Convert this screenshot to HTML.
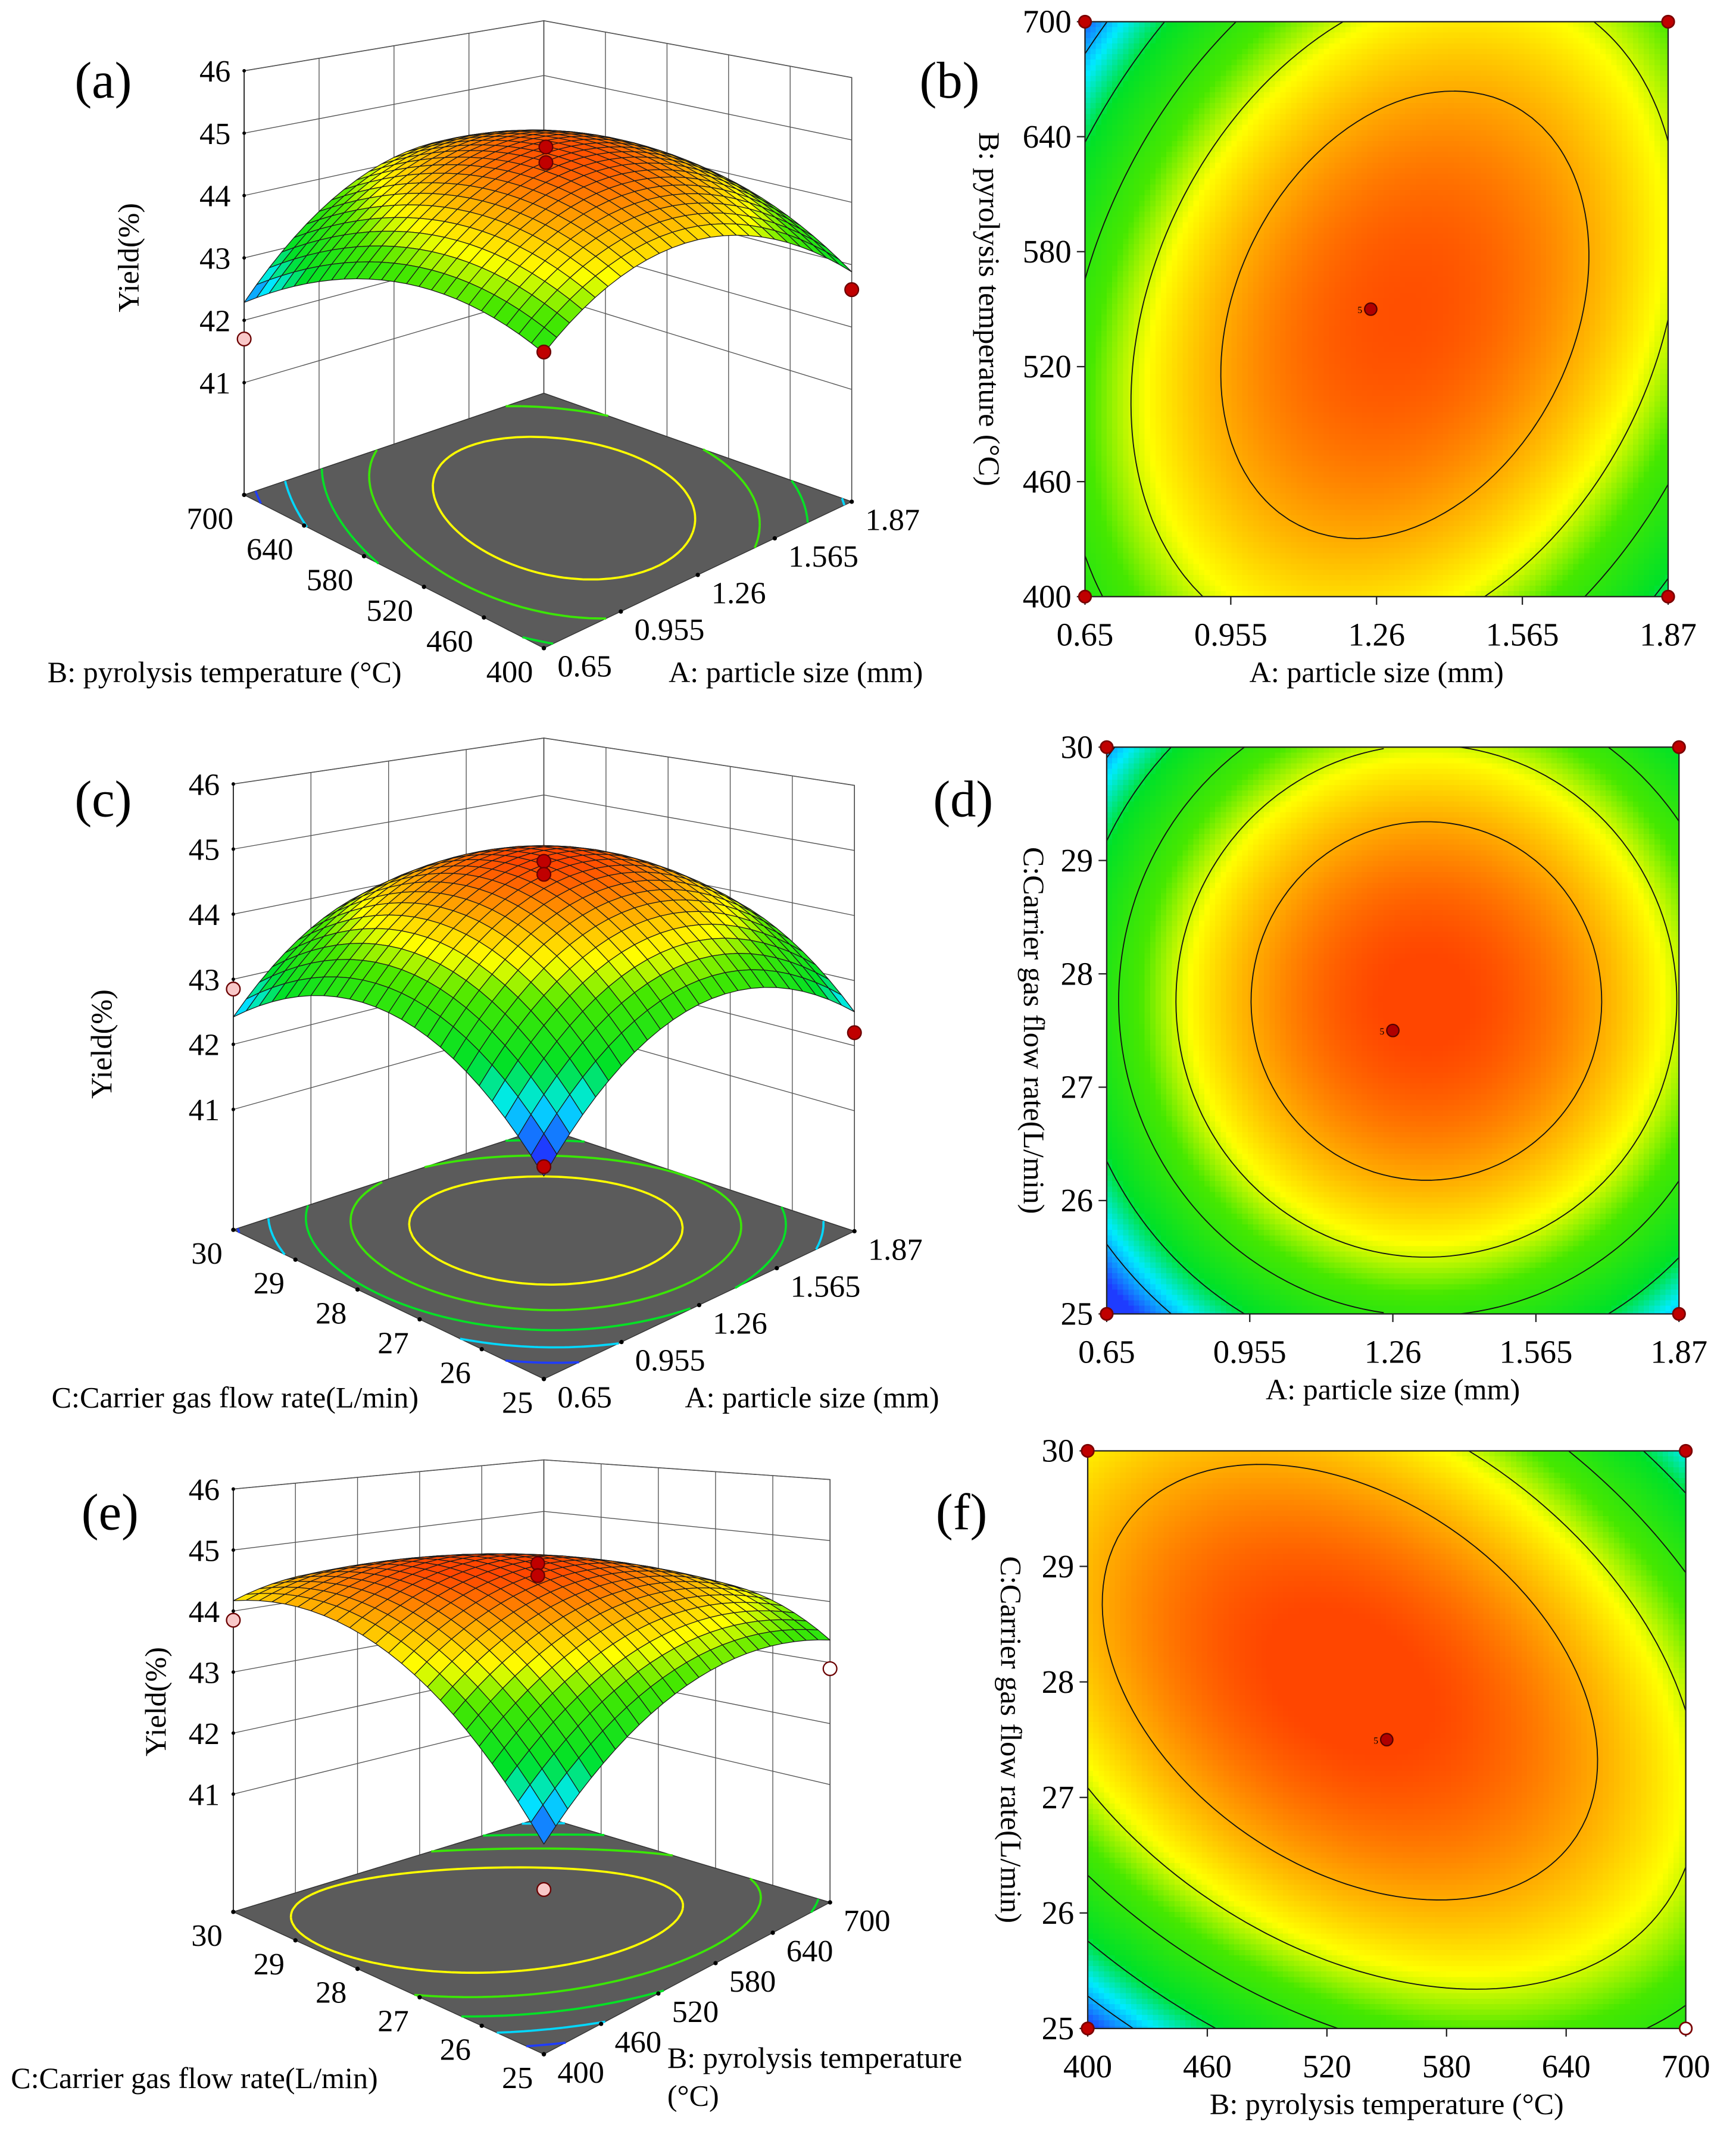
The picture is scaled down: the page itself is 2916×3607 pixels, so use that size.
<!DOCTYPE html>
<html><head><meta charset="utf-8">
<style>
html,body{margin:0;padding:0;background:#fff;}
svg{display:block;}
text{font-family:"Liberation Serif",serif;}
</style></head>
<body>
<svg id="fig" xmlns="http://www.w3.org/2000/svg" width="2916" height="3607" viewBox="0 0 1280 1583.4"></svg>
<script>
// ---- data (coefficients in coded units: b0, b1, b2, b12, b11, b22) ----
const coefAB = [44.9, 0.225, -0.075, 0.475, -1.11, -0.73];
const coefAC = [44.95, 0.3, 0.25, 0.0, -1.28, -1.2];
const coefBC = [44.97, -0.075, 0.325, -0.675, -0.85, -1.025];
const ticksA = ['0.65','0.955','1.26','1.565','1.87'];
const ticksB = ['400','460','520','580','640','700'];
const ticksC = ['25','26','27','28','29','30'];
const ticksY = ['41','42','43','44','45','46'];
const zTickVals = [41,42,43,44,45,46];
const contourLevels = [42.5,43,43.5,44,44.5];
// design points: coded x, coded y, yield
const ptsAB = [[0,0,45.0],[0,0,44.75],[-1,1,41.7],[-1,-1,43.4],[1,-1,42.6]];
const ptsAC = [[0,0,45.0],[0,0,44.8],[-1,1,42.85],[-1,-1,42.05],[1,-1,42.2]];
const ptsBC = [[0,0,45.0],[0,0,44.8],[-1,1,43.85],[-1,-1,41.5],[1,-1,42.9]];
const ptColAB = ['#c00000','#c00000','#f8c8c8','#c00000','#c00000'];
const ptColAC = ['#c00000','#c00000','#f8c8c8','#c00000','#c00000'];
const ptColBC = ['#c00000','#c00000','#f8c8c8','#f8c8c8','#ffffff'];

const cmapV=[42.2,42.65,43.05,43.7,44.1,44.55,44.95];
const cmapC=[[30,60,255],[0,235,255],[0,225,40],[70,232,0],[255,255,0],[255,160,0],[255,70,0]];

const NS='http://www.w3.org/2000/svg';
const svg=document.getElementById('fig');
function mk(tag,attrs,parent){const e=document.createElementNS(NS,tag);for(const k in attrs)e.setAttribute(k,attrs[k]);(parent||svg).appendChild(e);return e;}
function model(c,x,y){return c[0]+c[1]*x+c[2]*y+c[3]*x*y+c[4]*x*x+c[5]*y*y;}
function col(z){
  if(z<=cmapV[0])return 'rgb('+cmapC[0].join(',')+')';
  for(let i=1;i<cmapV.length;i++){if(z<=cmapV[i]){const f=(z-cmapV[i-1])/(cmapV[i]-cmapV[i-1]);const a=cmapC[i-1],b=cmapC[i];return 'rgb('+[0,1,2].map(k=>Math.round(a[k]+(b[k]-a[k])*f)).join(',')+')';}}
  return 'rgb('+cmapC[cmapC.length-1].join(',')+')';
}
function ms(N,val,lev){
  const segs=[];
  for(let i=0;i<N;i++)for(let j=0;j<N;j++){
    const v0=val[i][j],v1=val[i+1][j],v2=val[i+1][j+1],v3=val[i][j+1];const p=[];
    if((v0-lev)*(v1-lev)<0)p.push([i+(lev-v0)/(v1-v0),j]);
    if((v1-lev)*(v2-lev)<0)p.push([i+1,j+(lev-v1)/(v2-v1)]);
    if((v2-lev)*(v3-lev)<0)p.push([i+1-(lev-v2)/(v3-v2),j+1]);
    if((v3-lev)*(v0-lev)<0)p.push([i,j+1-(lev-v3)/(v0-v3)]);
    if(p.length>=2)segs.push([p[0],p[1]]);
    if(p.length==4)segs.push([p[2],p[3]]);
  }
  return segs;
}
function txt(x,y,s,size,anchor,parent,rot){
  const t=mk('text',{x:x,y:y,'font-size':size,'text-anchor':anchor||'middle',fill:'#000'},parent);
  if(rot)t.setAttribute('transform','rotate('+rot+' '+x+' '+y+')');
  t.textContent=s;return t;
}

// ---------- 3D panel ----------
function panel3D(g){
  const G=mk('g',{});
  
  
  const bil=(a,s,t)=>a[0]*(1-s)*(1-t)+a[1]*s*(1-t)+a[2]*(1-s)*t+a[3]*s*t;
  const P=(s,t,z)=>{const x=bil([g.F[0],g.R[0],g.L[0],g.K[0]],s,t);const fy=bil([g.F[1],g.R[1],g.L[1],g.K[1]],s,t);const k=bil([g.kF,g.kR,g.kL,g.kK],s,t);return [x,fy-(z-g.zf)*k];};
  const pt=p=>p[0].toFixed(2)+','+p[1].toFixed(2);
  const zt=46;
  const lw=mk('polygon',{points:[P(0,1,g.zf),P(1,1,g.zf),P(1,1,zt),P(0,1,zt)].map(pt).join(' '),fill:'#fff',stroke:'#444','stroke-width':0.7},G);
  
  
  const rw=mk('polygon',{points:[P(1,1,g.zf),P(1,0,g.zf),P(1,0,zt),P(1,1,zt)].map(pt).join(' '),fill:'#fff',stroke:'#444','stroke-width':0.7},G);
  
  
  let d='';
  const ns=g.sTicks.length-1, nt=g.tTicks.length-1;
  for(let i=1;i<ns;i++){const a=P(i/ns,1,g.zf),b=P(i/ns,1,zt);d+='M'+pt(a)+'L'+pt(b);}
  for(let i=1;i<nt;i++){const a=P(1,i/nt,g.zf),b=P(1,i/nt,zt);d+='M'+pt(a)+'L'+pt(b);}
  zTickVals.forEach(z=>{d+='M'+pt(P(0,1,z))+'L'+pt(P(1,1,z))+'L'+pt(P(1,0,z));});
  const grid=mk('path',{d:d,stroke:'#555',fill:'none','stroke-width':0.6},G);
  
  
  const za=mk('line',{x1:P(0,1,g.zf)[0],y1:P(0,1,g.zf)[1],x2:P(0,1,zt)[0],y2:P(0,1,zt)[1],stroke:'#222','stroke-width':0.8},G);
  
  
  zTickVals.forEach((z,i)=>{const p=P(0,1,z);
    const tk=mk('circle',{cx:p[0],cy:p[1],r:1.3,fill:'#000'},G);
    
    
    const t=txt(p[0]-10,p[1]+8,ticksY[i],23,'end',G);
    
    });
  const fl=mk('polygon',{points:[P(0,0,g.zf),P(1,0,g.zf),P(1,1,g.zf),P(0,1,g.zf)].map(pt).join(' '),fill:'#5b5b5b',stroke:'#333','stroke-width':0.6},G);
  
  
  const N=40,val=[];
  for(let i=0;i<=N;i++){val.push([]);for(let j=0;j<=N;j++)val[i].push(model(g.coef,-1+2*i/N,-1+2*j/N));}
  contourLevels.forEach(lev=>{
    const segs=ms(N,val,lev);let dd='';
    segs.forEach(sg=>{dd+='M'+pt(P(sg[0][0]/N,sg[0][1]/N,g.zf))+'L'+pt(P(sg[1][0]/N,sg[1][1]/N,g.zf));});
    const c=mk('path',{d:dd,stroke:col(lev-0.4),'stroke-width':1.6,fill:'none'},G);
    
    
  });
  g.tTicks.forEach((lab,i)=>{const t=i/nt;const p=P(0,t,g.zf);
    const tk=mk('circle',{cx:p[0],cy:p[1],r:1.6,fill:'#000'},G);
    
    
    const tx=txt(p[0]-8,p[1]+25,lab,23,'end',G);
    
    });
  g.sTicks.forEach((lab,i)=>{const s=i/ns;const p=P(s,0,g.zf);
    const tk=mk('circle',{cx:p[0],cy:p[1],r:1.6,fill:'#000'},G);
    
    
    const tx=txt(p[0]+10,p[1]+21,lab,23,'start',G);
    
    });
  const M=24,quads=[];
  for(let i=0;i<M;i++)for(let j=0;j<M;j++)quads.push([i,j]);
  quads.sort((a,b)=>(b[0]+b[1])-(a[0]+a[1]));
  const SG=mk('g',{stroke:'#1a1a1a','stroke-width':0.55,'stroke-linejoin':'round'},G);
  
  
  quads.forEach(q=>{
    const s0=q[0]/M,s1=(q[0]+1)/M,t0=q[1]/M,t1=(q[1]+1)/M;
    const z=(s,t)=>model(g.coef,-1+2*s,-1+2*t);
    const z00=z(s0,t0),z10=z(s1,t0),z11=z(s1,t1),z01=z(s0,t1);
    const p=mk('polygon',{points:[P(s0,t0,z00),P(s1,t0,z10),P(s1,t1,z11),P(s0,t1,z01)].map(pt).join(' '),fill:col((z00+z10+z11+z01)/4)},SG);
    
    
  });
  g.pts.forEach((pp,i)=>{const p=P((pp[0]+1)/2,(pp[1]+1)/2,pp[2]);
    const c=mk('circle',{cx:p[0],cy:p[1],r:5,fill:g.pcol[i],stroke:'#6a0000','stroke-width':1},G);
    
    });
  const pl=txt(g.lab[0],g.lab[1],g.lab[2],38,'start',G);
  
  
  const yl=txt(g.ylab[0],g.ylab[1],'Yield(%)',22,'middle',G,-90);
  
  
  g.titles.forEach(tt=>{const t=txt(tt[0],tt[1],tt[2],22,'start',G);
    
    });
}

panel3D({name:'surface-plot-a',F:[401,478],L:[180,365],R:[628,370],K:[401,290],kF:52,kL:46,kR:46,kK:40.4,zf:39.2,coef:coefAB,sTicks:ticksA,tTicks:ticksB,pts:ptsAB,pcol:ptColAB,lab:[55,72,'(a)'],ylab:[102,190],titles:[[35,503,'B: pyrolysis temperature (°C)'],[493,503,'A: particle size (mm)']]});
panel3D({name:'surface-plot-c',F:[401,1017],L:[172,907],R:[630,908],K:[401,832],kF:54,kL:48,kR:48,kK:42,zf:39.15,coef:coefAC,sTicks:ticksA,tTicks:ticksC,pts:ptsAC,pcol:ptColAC,lab:[55,602,'(c)'],ylab:[82,770],titles:[[38,1038,'C:Carrier gas flow rate(L/min)'],[505,1038,'A: particle size (mm)']]});
panel3D({name:'surface-plot-e',F:[401,1515],L:[172,1410],R:[612,1403],K:[401,1340],kF:50,kL:45,kR:45,kK:38,zf:39.07,coef:coefBC,sTicks:ticksB,tTicks:ticksC,pts:ptsBC,pcol:ptColBC,lab:[60,1128,'(e)'],ylab:[122,1255],titles:[[8,1540,'C:Carrier gas flow rate(L/min)'],[492,1525,'B: pyrolysis temperature'],[492,1553,'(°C)']]});

// ---------- contour panels ----------
function panel2D(g){
  const G=mk('g',{});
  
  
  const W=g.x1-g.x0,H=g.y1-g.y0;
  const X=u=>g.x0+(u+1)/2*W, Y=v=>g.y1-(v+1)/2*H;
  const step=4;
  const HG=mk('g',{'shape-rendering':'crispEdges'},G);
  
  
  for(let px=g.x0;px<g.x1;px+=step)for(let py=g.y0;py<g.y1;py+=step){
    const w=Math.min(step,g.x1-px),h=Math.min(step,g.y1-py);
    const u=((px+w/2)-g.x0)/W*2-1,v=(g.y1-(py+h/2))/H*2-1;
    const r=mk('rect',{x:px,y:py,width:w+0.4,height:h+0.4,fill:col(model(g.coef,u,v))},HG);
    
    
  }
  const N=60,val=[];
  for(let i=0;i<=N;i++){val.push([]);for(let j=0;j<=N;j++)val[i].push(model(g.coef,-1+2*i/N,-1+2*j/N));}
  contourLevels.forEach(lev=>{
    const segs=ms(N,val,lev);let dd='';
    segs.forEach(sg=>{dd+='M'+X(-1+2*sg[0][0]/N).toFixed(2)+','+Y(-1+2*sg[0][1]/N).toFixed(2)+'L'+X(-1+2*sg[1][0]/N).toFixed(2)+','+Y(-1+2*sg[1][1]/N).toFixed(2);});
    const c=mk('path',{d:dd,stroke:'#111','stroke-width':0.8,fill:'none','stroke-linecap':'round'},G);
    
    
  });
  const fr=mk('rect',{x:g.x0,y:g.y0,width:W,height:H,fill:'none',stroke:'#222','stroke-width':1},G);
  
  
  g.xt.forEach((lab,i)=>{const x=g.x0+i/(g.xt.length-1)*W;
    const l=mk('line',{x1:x,y1:g.y1,x2:x,y2:g.y1+6,stroke:'#222','stroke-width':1},G);
    
    
    const t=txt(x,g.y1+36,lab,24,'middle',G);
    
    });
  g.yt.forEach((lab,i)=>{const y=g.y1-i/(g.yt.length-1)*H;
    const l=mk('line',{x1:g.x0-6,y1:y,x2:g.x0,y2:y,stroke:'#222','stroke-width':1},G);
    
    
    const t=txt(g.x0-10,y+8,lab,24,'end',G);
    
    });
  g.corners.forEach(c=>{
    const p=mk('circle',{cx:X(c[0]),cy:Y(c[1]),r:4.5,fill:c[2],stroke:'#7a0000','stroke-width':1.2},G);
    
    });
  const cp=mk('circle',{cx:X(g.center[0]),cy:Y(g.center[1]),r:4.5,fill:'#b00000',stroke:'#500','stroke-width':1},G);
  
  
  const cl=txt(X(g.center[0])-8,Y(g.center[1])+3,'5',7,'middle',G);
  
  
  const xt=txt((g.x0+g.x1)/2,g.y1+63,g.xtitle,22,'middle',G);
  
  
  const yt=txt(g.ytx,(g.y0+g.y1)/2,g.ytitle,22,'middle',G,90);
  
  
  const pl=txt(g.lab[0],g.lab[1],g.lab[2],38,'start',G);
  
  
}
const red='#c00000';
panel2D({name:'contour-plot-b',x0:800,x1:1230,y0:16,y1:440,coef:coefAB,xt:ticksA,yt:ticksB,xtitle:'A: particle size (mm)',ytitle:'B: pyrolysis temperature (°C)',ytx:722,lab:[678,72,'(b)'],corners:[[-1,-1,red],[1,-1,red],[-1,1,red],[1,1,red]],center:[-0.02,0.0]});
panel2D({name:'contour-plot-d',x0:816,x1:1238,y0:551,y1:969,coef:coefAC,xt:ticksA,yt:ticksC,xtitle:'A: particle size (mm)',ytitle:'C:Carrier gas flow rate(L/min)',ytx:755,lab:[688,602,'(d)'],corners:[[-1,-1,red],[1,-1,red],[-1,1,red],[1,1,red]],center:[0,0]});
panel2D({name:'contour-plot-f',x0:802,x1:1243,y0:1070,y1:1496,coef:coefBC,xt:ticksB,yt:ticksC,xtitle:'B: pyrolysis temperature (°C)',ytitle:'C:Carrier gas flow rate(L/min)',ytx:738,lab:[690,1128,'(f)'],corners:[[-1,-1,red],[1,-1,'#ffffff'],[-1,1,red],[1,1,red]],center:[0,0]});
</script>
</body></html>
